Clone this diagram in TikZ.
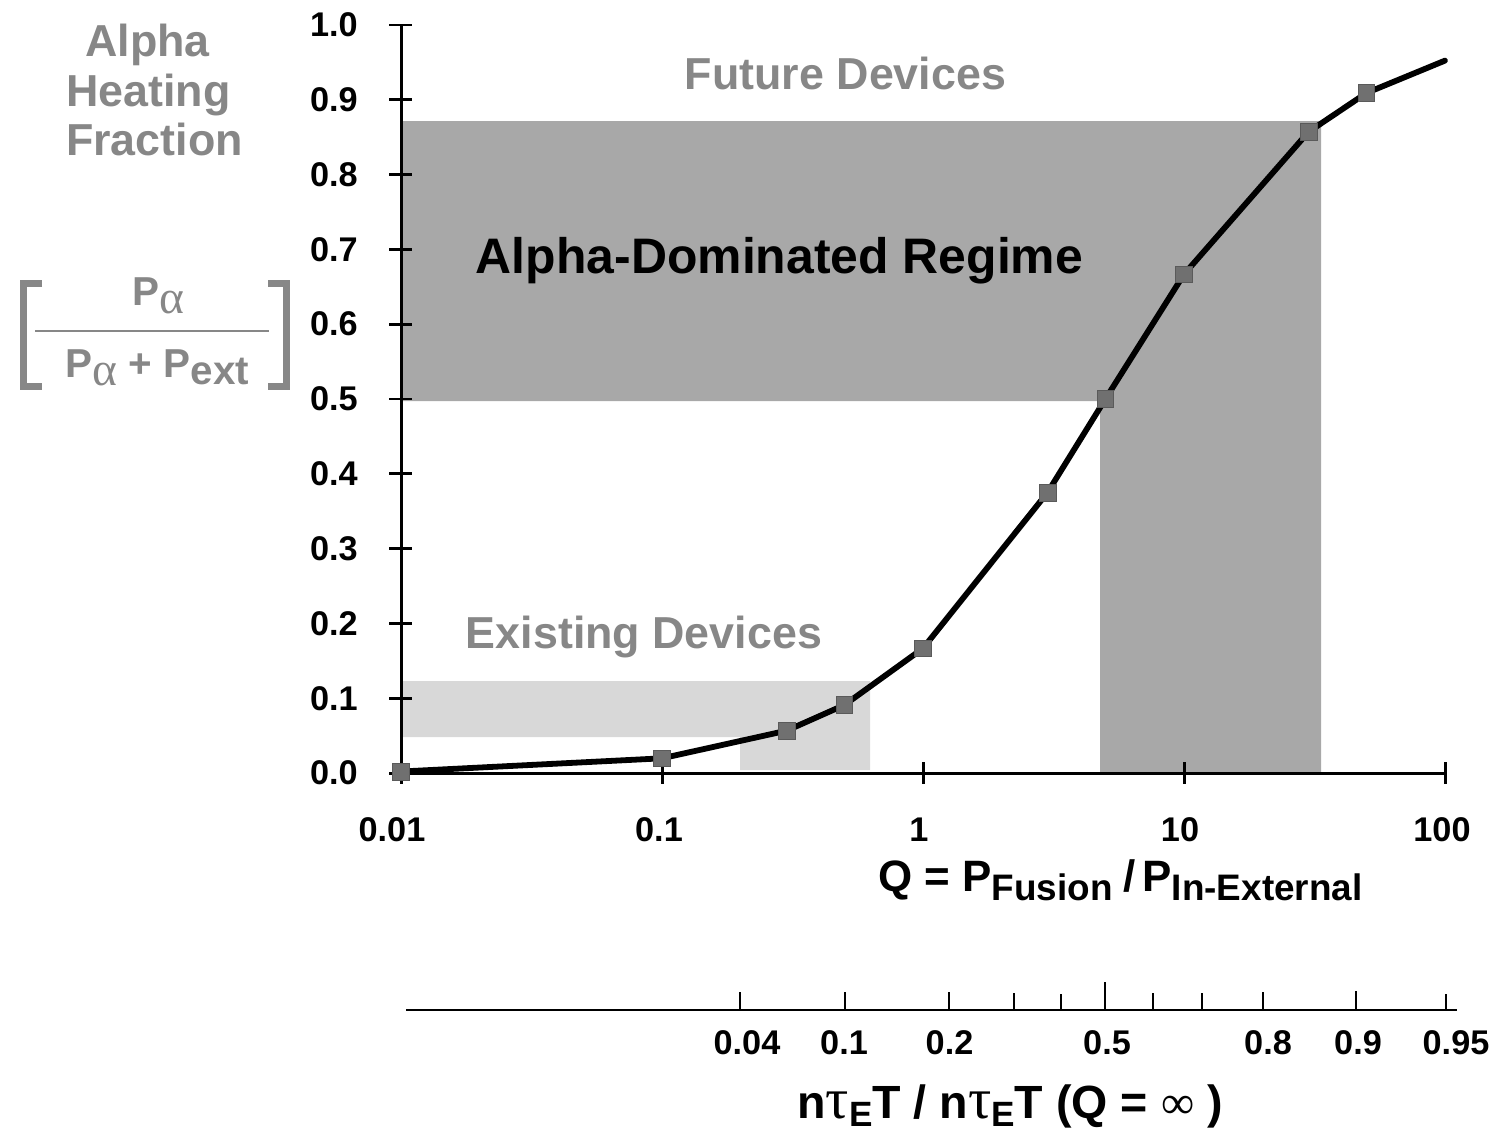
\documentclass[tikz,border=0pt]{standalone}
\usepackage{fontspec}
\setmainfont{Liberation Sans}
\newfontfamily\grk{Liberation Serif}
\definecolor{darkreg}{RGB}{168,168,168}
\definecolor{lightreg}{RGB}{216,216,216}
\definecolor{txtgray}{RGB}{135,135,135}
\definecolor{mk}{RGB}{112,112,112}
\begin{document}
\begin{tikzpicture}[x=0.02cm,y=-0.02cm,
  axis/.style={line width=1.7pt, black},
  baxis/.style={line width=1.2pt, black},
  tlab/.style={font=\fontsize{19.5}{19.5}\selectfont\bfseries, inner sep=0pt},
  glab/.style={font=\fontsize{25.5}{25.5}\selectfont\bfseries, text=txtgray, inner sep=0pt},
  sqmark/.style={draw=mk!80!black, line width=0.4pt, fill=mk, minimum size=9.5pt, inner sep=0pt},
  fraclab/.style={font=\fontsize{23}{23}\selectfont\bfseries, text=txtgray, inner sep=0pt},
  brack/.style={draw=txtgray, line width=4pt, line cap=butt, line join=miter},
]
\useasboundingbox (0,0) rectangle (1496,1132);

% shaded regimes
\fill[darkreg] (403,121) -- (1321,121) -- (1321,773) -- (1100,773) -- (1100,401) -- (403,401) -- cycle;
\fill[lightreg] (403,681) -- (870,681) -- (870,770) -- (740,770) -- (740,737) -- (403,737) -- cycle;

% y axis
\draw[axis] (401,773) -- (401,25);
\foreach \k/\lab in {0/0.0,1/0.1,2/0.2,3/0.3,4/0.4,5/0.5,6/0.6,7/0.7,8/0.8,9/0.9,10/1.0}{
  \draw[axis] (389,{773-74.8*\k}) -- (412,{773-74.8*\k});
  \node[tlab, anchor=east] (yl\k) at (358,{773-74.8*\k}) {\lab};
}

% x axis
\draw[axis] (401,773) -- (1445,773);
\foreach \i/\x/\lx/\lab in {1/401/392/0.01,2/662/659/0.1,3/923/919/1,4/1184/1180/10,5/1445/1442/100}{
  \draw[axis] (\x,762) -- (\x,784);
  \node[tlab] (xl\i) at (\lx,830) {\lab};
}

% curve
\coordinate (q1) at (401,771.5);
\coordinate (q2) at (662,758.3);
\coordinate (q3) at (786.5,730.7);
\coordinate (q4) at (844.4,705.0);
\coordinate (q5) at (923,648.3);
\coordinate (q6) at (1047.5,492.5);
\coordinate (q7) at (1105.4,399);
\coordinate (q8) at (1184,274.3);
\coordinate (q9) at (1308.5,131.9);
\coordinate (q10) at (1366.4,93.0);
\coordinate (q11) at (1445,60.6);
\draw[line width=3.3pt, line join=round, line cap=round] (q1) -- (q2) -- (q3) -- (q4) -- (q5) -- (q6) -- (q7) -- (q8) -- (q9) -- (q10) -- (q11);
\foreach \i in {1,...,10}{ \node[sqmark] (m\i) at (q\i) {}; }

% region labels
\node[glab, anchor=base] (future) at (845.5,90) {Future Devices};
\node[anchor=base, inner sep=0pt, font=\fontsize{28.4}{28.4}\selectfont\bfseries] (alphadom) at (779.5,273) {Alpha-Dominated Regime};
\node[glab, anchor=base] (existing) at (644,648) {Existing Devices};

% y axis title
\node[glab, anchor=base] (t1) at (147.5,57) {Alpha};
\node[glab, anchor=base] (t2) at (148.5,107) {Heating};
\node[glab, anchor=base] (t3) at (154.5,155) {Fraction};

% fraction
\node[fraclab, anchor=base] (num) at (158,305) {P\raisebox{-5pt}{\fontsize{27}{27}\selectfont\grk\mdseries α}};
\node[fraclab, anchor=base] (den) at (157.5,377) {P\raisebox{-5pt}{\fontsize{27}{27}\selectfont\grk\mdseries α} + P\raisebox{-4.5pt}{ext}};
\coordinate (fl) at (35,331);
\coordinate (fr) at (269,331);
\draw[draw=txtgray, line width=1.7pt] (fl) -- (fr);
\draw[brack] (42,283.5) -- (23.5,283.5) -- (23.5,386.5) -- (42,386.5);
\draw[brack] (268,283.5) -- (286.5,283.5) -- (286.5,386.5) -- (268,386.5);

% Q label
\node[anchor=base west, inner sep=0pt, font=\fontsize{25}{25}\selectfont\bfseries] (qlab) at (878,891)
  {Q = P\raisebox{-5.5pt}{\fontsize{21}{21}\selectfont Fusion}\kern6pt/\kern4pt P\raisebox{-5.5pt}{\fontsize{21}{21}\selectfont In-External}};

% bottom axis
\draw[baxis] (406,1010) -- (1457,1010);
\foreach \x/\t in {740/992,845/992,949/992,1014/993,1061/994,1105/982,1153/993,1202/993,1263/992,1356/991,1446/994}{
  \draw[baxis] (\x,1010) -- (\x,\t);
}
\foreach \i/\x/\lab in {1/747/0.04,2/844/0.1,3/949.5/0.2,4/1107/0.5,5/1268/0.8,6/1358/0.9,7/1456/0.95}{
  \node[tlab] (bl\i) at (\x,1043) {\lab};
}
\node[anchor=base, inner sep=0pt, font=\fontsize{26.5}{26.5}\selectfont\bfseries] (btitle) at (1010,1118)
  {n{\fontsize{33}{33}\selectfont\grk\mdseries τ}\raisebox{-5pt}{\fontsize{20}{20}\selectfont E}T / n{\fontsize{33}{33}\selectfont\grk\mdseries τ}\raisebox{-5pt}{\fontsize{20}{20}\selectfont E}T (Q = {\grk\mdseries ∞} )};
\end{tikzpicture}
\end{document}
